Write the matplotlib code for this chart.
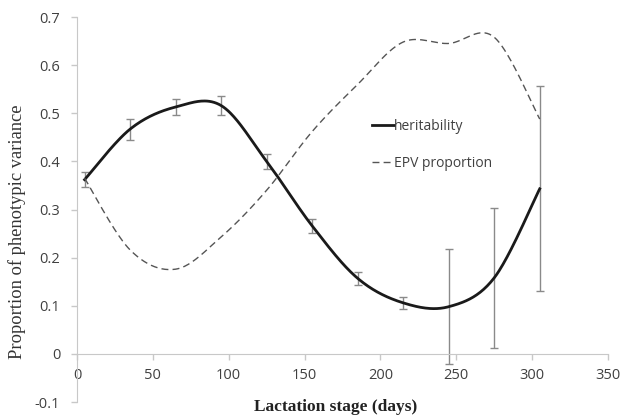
import matplotlib
matplotlib.use("Agg")
import matplotlib.pyplot as plt
import numpy as np

# lactation stage (days) at which the estimates were made
days = [5, 35, 65, 95, 125, 155, 185, 215, 245, 275, 305]
heritability = [0.362, 0.467, 0.513, 0.516, 0.400, 0.266, 0.157, 0.106, 0.098, 0.158, 0.343]
herit_se = [0.016, 0.022, 0.016, 0.020, 0.016, 0.015, 0.014, 0.012, 0.120, 0.145, 0.213]
epv_prop = [0.365, 0.216, 0.176, 0.243, 0.340, 0.462, 0.560, 0.648, 0.645, 0.658, 0.488]

x_ticks = [0, 50, 100, 150, 200, 250, 300, 350]
y_ticks = [-0.1, 0, 0.1, 0.2, 0.3, 0.4, 0.5, 0.6, 0.7]
y_ticklabels = ["-0.1", "0", "0.1", "0.2", "0.3", "0.4", "0.5", "0.6", "0.7"]


def smooth(x, y, n=40):
    """Excel-style smoothed line: Catmull-Rom curve through each point."""
    x = np.asarray(x, float); y = np.asarray(y, float)
    px = np.concatenate([[x[0]], x, [x[-1]]])
    py = np.concatenate([[y[0]], y, [y[-1]]])
    xs, ys = [], []
    t = np.linspace(0, 1, n)
    for i in range(1, len(px) - 2):
        p0, p1, p2, p3 = (np.array([px[j], py[j]]) for j in (i - 1, i, i + 1, i + 2))
        c1 = p1 + (p2 - p0) / 6
        c2 = p2 - (p3 - p1) / 6
        b = ((1 - t) ** 3)[:, None] * p1 + (3 * (1 - t) ** 2 * t)[:, None] * c1 \
            + (3 * (1 - t) * t ** 2)[:, None] * c2 + (t ** 3)[:, None] * p2
        xs.append(b[:, 0]); ys.append(b[:, 1])
    return np.concatenate(xs), np.concatenate(ys)


fig = plt.figure(figsize=(6.23, 4.15), dpi=100)
ax = fig.add_axes([77 / 623, 13 / 415, 531 / 623, 385 / 415])

axis_grey = "#c8c8c8"
text_grey = "#404040"

ax.errorbar(days, heritability, yerr=herit_se, fmt="none", ecolor="#8a8a8a",
            elinewidth=1, capsize=3, capthick=1, zorder=2)
hx, hy = smooth(days, heritability)
ax.plot(hx, hy, color="#1a1a1a", lw=2, label="heritability", zorder=3)
ex, ey = smooth(days, epv_prop)
ax.plot(ex, ey, color="#555555", lw=1, dashes=(5, 3), label="EPV proportion", zorder=3)

ax.set_xlim(0, 350)
ax.set_ylim(-0.1, 0.7)
ax.set_xticks(x_ticks)
ax.set_yticks(y_ticks)
ax.set_yticklabels(y_ticklabels)

for side in ("top", "right"):
    ax.spines[side].set_visible(False)
ax.spines["bottom"].set_position(("data", 0))
ax.spines["bottom"].set_color(axis_grey)
ax.spines["left"].set_color(axis_grey)
ax.tick_params(axis="both", colors=axis_grey, length=4, width=1,
               labelcolor=text_grey, labelsize=10.5)
ax.tick_params(axis="y", pad=8)
ax.tick_params(axis="x", pad=6)
for lab in ax.get_xticklabels() + ax.get_yticklabels():
    lab.set_family("Open Sans")

leg = ax.legend(loc="upper left", bbox_to_anchor=(365 / 623, 1 - 112 / 415),
                bbox_transform=fig.transFigure, frameon=False, handlelength=1.6,
                handletextpad=0.0, labelspacing=1.6, borderpad=0,
                prop={"family": "Open Sans", "size": 10})
for t in leg.get_texts():
    t.set_color(text_grey)

fig.text(336 / 623, 1 - 407 / 415, "Lactation stage (days)", ha="center", va="center",
         family="Liberation Serif", weight="bold", fontsize=12.5, color="#222222")
fig.text(17 / 623, 1 - 232 / 415, "Proportion of phenotypic variance", ha="center",
         va="center", rotation=90, family="Liberation Serif", fontsize=13.3,
         color="#333333")

fig.savefig("out.png", dpi=100)
